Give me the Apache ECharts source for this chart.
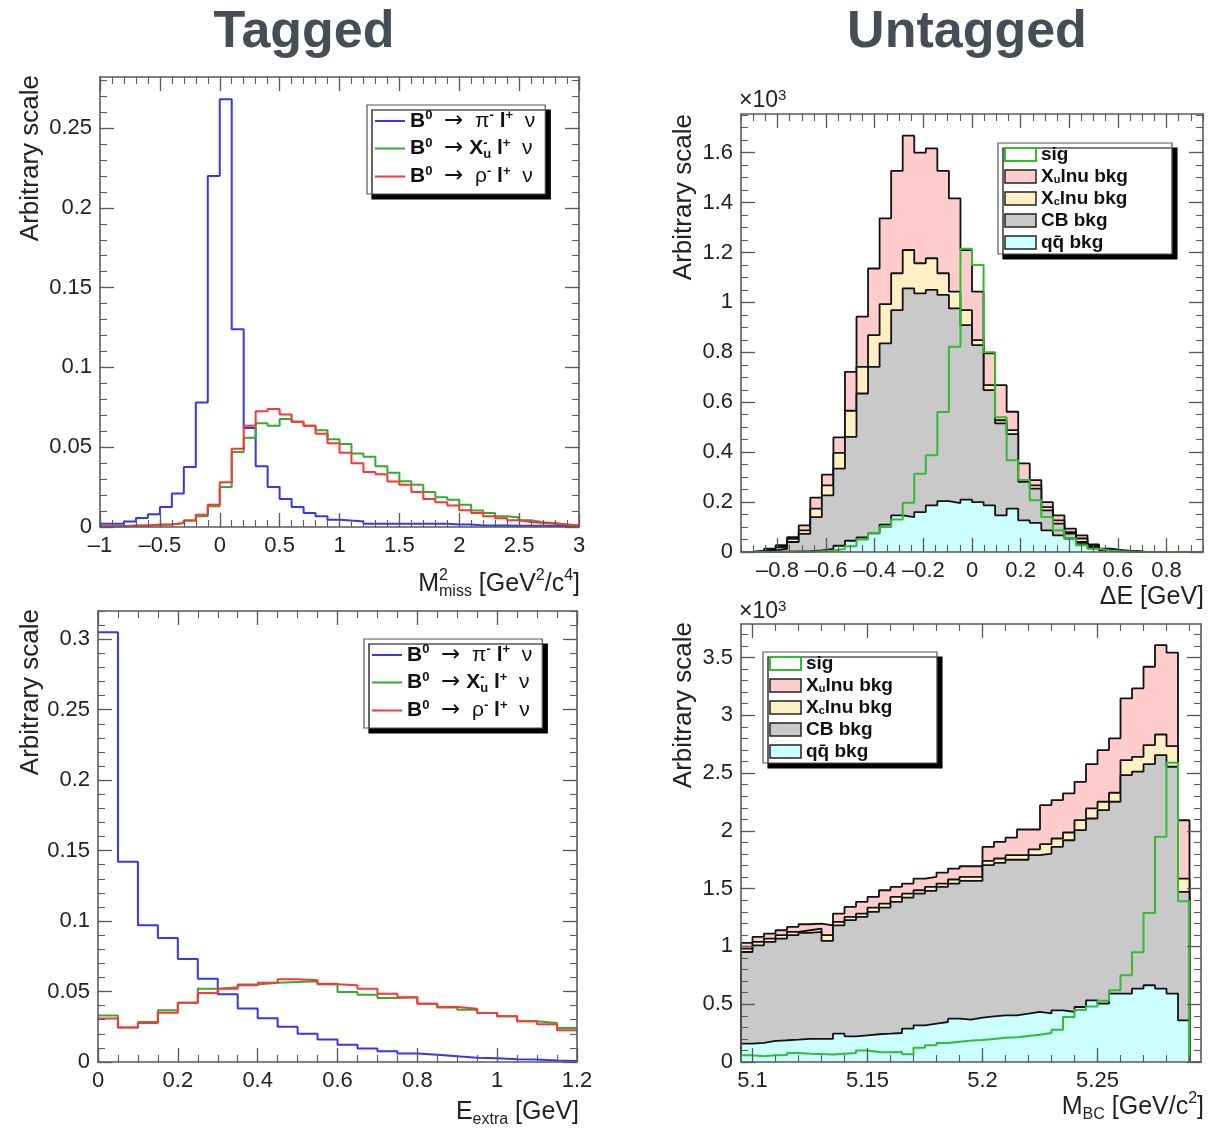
<!DOCTYPE html>
<html><head><meta charset="utf-8">
<script src="https://cdn.jsdelivr.net/npm/echarts@6/dist/echarts.min.js"></script>
<style>html,body{margin:0;padding:0;background:#fff}#c{width:1221px;height:1129px}</style>
</head><body><div id="c"></div>
<script>
// ---------------- DATA ----------------
// Tagged, M^2_miss : 40 bins on [-1, 3]
const tagMissRange = [-1, 3];
const tagMissPi  = [0.002,0.002,0.0035,0.0056,0.008,0.0125,0.021,0.0376,0.078,0.220,0.268,0.124,0.062,0.038,0.025,0.0175,0.0125,0.0088,0.0067,0.0046,0.004,0.0035,0.002,0.002,0.002,0.002,0.002,0.002,0.002,0.0015,0.0015,0.001,0.001,0.001,0.0008,0.0008,0.0008,0.0006,0.0006,0.0005];
const tagMissXu  = [0.0005,0.0005,0.0008,0.001,0.0012,0.0015,0.0025,0.004,0.0067,0.013,0.025,0.047,0.056,0.065,0.0635,0.0677,0.066,0.0635,0.0606,0.055,0.052,0.046,0.044,0.038,0.034,0.0286,0.0265,0.022,0.0186,0.017,0.014,0.0104,0.0088,0.0067,0.006,0.0042,0.003,0.0025,0.0015,0.001];
const tagMissRho = [0.0005,0.0005,0.001,0.001,0.0015,0.0015,0.0025,0.004,0.0077,0.014,0.028,0.049,0.0635,0.0725,0.074,0.0705,0.066,0.0635,0.0585,0.0525,0.0465,0.04,0.0345,0.033,0.0285,0.0265,0.022,0.0175,0.0155,0.0135,0.0105,0.0088,0.0068,0.0055,0.0042,0.0032,0.0025,0.002,0.0015,0.001];
// Tagged, E_extra : 24 bins on [0, 1.2]
const tagExtraRange = [0, 1.2];
const tagExtraPi  = [0.305,0.142,0.097,0.088,0.073,0.059,0.048,0.038,0.031,0.025,0.020,0.016,0.0123,0.0095,0.0076,0.006,0.0052,0.004,0.003,0.0026,0.002,0.0017,0.001,0.0007];
const tagExtraXu  = [0.033,0.0244,0.0284,0.0367,0.042,0.052,0.053,0.055,0.0563,0.0568,0.0573,0.0556,0.0497,0.0478,0.0454,0.046,0.0414,0.0386,0.037,0.0348,0.0324,0.0289,0.0277,0.0241];
const tagExtraRho = [0.0308,0.0244,0.0277,0.035,0.042,0.049,0.052,0.0544,0.0563,0.0587,0.058,0.0551,0.0544,0.052,0.0485,0.046,0.0414,0.039,0.0378,0.0348,0.0324,0.0289,0.0267,0.0225];
// Untagged, Delta E : 40 bins on [-0.95, 0.95]  (units of 10^3)
const untagDeRange = [-0.95, 0.95];
const untagDeQQ  = [0,0,0,0.001,0.002,0.003,0.006,0.012,0.025,0.045,0.058,0.075,0.11,0.147,0.14,0.16,0.187,0.204,0.196,0.21,0.2,0.187,0.147,0.174,0.127,0.117,0.087,0.067,0.054,0.031,0.016,0.007,0.004,0.002,0,0,0,0,0,0];
const untagDeCB  = [0,0.002,0.007,0.012,0.038,0.070,0.134,0.215,0.309,0.416,0.577,0.667,0.726,0.822,0.916,0.876,0.863,0.826,0.78,0.699,0.629,0.462,0.368,0.298,0.154,0.137,0.08,0.047,0.02,0.009,0.006,0.002,0.001,0,0,0,0,0,0,0];
const untagDeXc  = [0,0.001,0.004,0.007,0.013,0.014,0.034,0.040,0.063,0.105,0.107,0.127,0.157,0.148,0.154,0.121,0.127,0.087,0.067,0.06,0.02,0.02,0.013,0.016,0.007,0.013,0.013,0.013,0.006,0.014,0.004,0.002,0.001,0.001,0,0,0,0,0,0];
const untagDeXu  = [0,0.001,0.002,0.007,0.007,0.020,0.044,0.043,0.062,0.156,0.201,0.267,0.344,0.41,0.458,0.443,0.44,0.41,0.374,0.241,0.194,0.127,0.141,0.074,0.067,0.021,0.02,0.02,0.014,0.013,0.004,0.002,0.001,0,0,0,0,0,0,0];
const untagDeSig = [0,0,0,0,0,0.001,0.003,0.006,0.012,0.023,0.05,0.075,0.1,0.13,0.197,0.314,0.388,0.561,0.822,1.215,1.15,0.80,0.54,0.368,0.288,0.207,0.14,0.087,0.054,0.027,0.013,0.006,0.003,0.001,0,0,0,0,0,0];
// Untagged, M_BC : 40 bins on [5.095, 5.295]  (units of 10^3)
const untagMbcRange = [5.095, 5.295];
const untagMbcQQ  = [0.159,0.165,0.182,0.188,0.193,0.2,0.2,0.2,0.245,0.222,0.231,0.24,0.245,0.251,0.289,0.317,0.332,0.346,0.375,0.367,0.384,0.395,0.404,0.404,0.418,0.433,0.42,0.447,0.433,0.476,0.534,0.505,0.592,0.592,0.635,0.664,0.635,0.592,0.361,0];
const untagMbcCB  = [0.793,0.845,0.857,0.88,0.904,0.917,0.926,0.848,0.938,1.005,1.024,1.059,1.091,1.134,1.134,1.14,1.149,1.169,1.169,1.2,1.183,1.308,1.319,1.346,1.332,1.357,1.384,1.415,1.486,1.53,1.573,1.674,1.66,1.891,1.877,1.914,2.021,1.963,1.111,0];
const untagMbcXc  = [0.029,0.029,0.029,0.029,0.029,0.023,0.029,0.049,0.029,0.028,0.029,0.037,0.035,0.044,0.034,0.029,0.034,0.029,0.035,0.035,0.035,0.037,0.038,0.04,0.04,0.05,0.081,0.072,0.067,0.087,0.087,0.073,0.078,0.129,0.129,0.164,0.178,0.178,0.115,0];
const untagMbcXu  = [0.049,0.043,0.043,0.043,0.043,0.052,0.043,0.086,0.072,0.087,0.101,0.093,0.115,0.086,0.087,0.101,0.087,0.095,0.095,0.092,0.092,0.121,0.144,0.152,0.222,0.172,0.337,0.332,0.338,0.331,0.383,0.446,0.47,0.534,0.592,0.678,0.774,0.809,0.505,0];
const untagMbcSig = [0.058,0.049,0.058,0.06,0.078,0.072,0.07,0.065,0.072,0.078,0.1,0.087,0.085,0.087,0.067,0.124,0.144,0.164,0.175,0.185,0.19,0.2,0.21,0.215,0.225,0.235,0.25,0.28,0.39,0.45,0.48,0.53,0.62,0.75,0.95,1.29,1.95,2.59,1.39,0];
// Axis tick labels
const tagMissXTicks  = [-1,-0.5,0,0.5,1,1.5,2,2.5,3];
const tagMissYTicks  = [0,0.05,0.1,0.15,0.2,0.25];
const tagExtraXTicks = [0,0.2,0.4,0.6,0.8,1,1.2];
const tagExtraYTicks = [0,0.05,0.1,0.15,0.2,0.25,0.3];
const untagDeXTicks  = [-0.8,-0.6,-0.4,-0.2,0,0.2,0.4,0.6,0.8];
const untagDeYTicks  = [0,0.2,0.4,0.6,0.8,1,1.2,1.4,1.6];
const untagMbcXTicks = [5.1,5.15,5.2,5.25];
const untagMbcYTicks = [0,0.5,1,1.5,2,2.5,3,3.5];
const yRanges = [[0,0.282],[0,0.32],[0,1.755],[0,3.79]];

// ---------------- BUILD ----------------
const F = "'Liberation Sans', Arial, Helvetica, sans-serif";
const FA = "'DejaVu Sans', sans-serif";
const FRAME = '#5a5a5a';
const BLUE='#3535ff', GREENL='#33aa33', RED='#ff3535';
const PINK='#ffcccc', YELLOW='#fcf0c4', GRAY='#c9c9c9', CYAN='#ccffff', SIG='#33bb33';

function stepPoints(range, vals, closed){
  const n = vals.length, w = (range[1]-range[0])/n, pts = [];
  if (closed) pts.push([range[0], 0]);
  vals.forEach((v,i)=>pts.push([range[0]+i*w, v]));
  pts.push([range[1], vals[n-1]]);
  if (closed) pts.push([range[1], 0]);
  return pts;
}
function add(a,b){ return a.map((v,i)=>v+b[i]); }
function minorTicks(range, step){
  const out=[]; const k0=Math.ceil(range[0]/step-1e-9), k1=Math.floor(range[1]/step+1e-9);
  for(let k=k0;k<=k1;k++) out.push(+(k*step).toFixed(6));
  return out;
}
function fmt(v){ return String(+(+v).toFixed(4)).replace('-', '\u2013'); }

const xAxes=[], yAxes=[];
function makeAxes(list, isX, g, range, major, minorStep){
  const pos = isX ? ['bottom','top'] : ['left','right'];
  const minor = minorTicks(range, minorStep);
  const common = {gridIndex:g, type:'value', min:range[0], max:range[1], splitLine:{show:false}, z:10, silent:true};
  pos.forEach((p,pi)=>{
    list.push(Object.assign({}, common, {position:p,
      axisLine:{show:true, onZero:false, lineStyle:{color:FRAME, width:1.6}},
      axisTick:{show:true, inside:true, length:14, customValues:major, lineStyle:{color:FRAME, width:1.3}},
      axisLabel: pi===0 ? {show:true, customValues:major, formatter:fmt, fontFamily:F, fontSize:22, color:'#222', margin:8} : {show:false}
    }));
    list.push(Object.assign({}, common, {position:p,
      axisLine:{show:false, onZero:false},
      axisTick:{show:true, inside:true, length:7, customValues:minor, lineStyle:{color:FRAME, width:1.1}},
      axisLabel:{show:false}
    }));
  });
}
makeAxes(xAxes,true,0,tagMissRange,tagMissXTicks,0.1);
makeAxes(yAxes,false,0,yRanges[0],tagMissYTicks,0.01);
makeAxes(xAxes,true,1,tagExtraRange,tagExtraXTicks,0.05);
makeAxes(yAxes,false,1,yRanges[1],tagExtraYTicks,0.01);
makeAxes(xAxes,true,2,untagDeRange,untagDeXTicks,0.05);
makeAxes(yAxes,false,2,yRanges[2],untagDeYTicks,0.05);
makeAxes(xAxes,true,3,untagMbcRange,untagMbcXTicks,0.01);
makeAxes(yAxes,false,3,yRanges[3],untagMbcYTicks,0.1);

const series=[];
function lineHist(g, name, range, vals, color){
  series.push({type:'line', name, xAxisIndex:4*g, yAxisIndex:4*g, data:stepPoints(range, vals, false),
    step:'end', symbol:'none', showSymbol:false, silent:true, color, lineStyle:{color, width:2}, z:3});
}
function fillHist(g, name, range, vals, fill, z){
  series.push({type:'line', name, xAxisIndex:4*g, yAxisIndex:4*g, data:stepPoints(range, vals, true),
    step:'end', symbol:'none', showSymbol:false, silent:true, color:fill,
    lineStyle:{color:'#111', width:1.8}, areaStyle:{color:fill, opacity:1, origin:'start'}, z});
}
lineHist(0,'pi', tagMissRange, tagMissPi, BLUE);
lineHist(0,'xul',tagMissRange, tagMissXu, GREENL);
lineHist(0,'rho',tagMissRange, tagMissRho, RED);
lineHist(1,'pi', tagExtraRange, tagExtraPi, BLUE);
lineHist(1,'xul',tagExtraRange, tagExtraXu, GREENL);
lineHist(1,'rho',tagExtraRange, tagExtraRho, RED);

function stackPanel(g, range, qq, cb, xc, xu, sig){
  const c1=qq, c2=add(c1,cb), c3=add(c2,xc), c4=add(c3,xu);
  fillHist(g,'xub',range,c4,PINK,3);
  fillHist(g,'xcb',range,c3,YELLOW,4);
  fillHist(g,'cbb',range,c2,GRAY,5);
  fillHist(g,'qqb',range,c1,CYAN,6);
  series.push({type:'line', name:'sig', xAxisIndex:4*g, yAxisIndex:4*g, data:stepPoints(range, sig, true),
    step:'end', symbol:'none', showSymbol:false, silent:true, color:SIG, lineStyle:{color:SIG, width:2}, z:7});
}
stackPanel(2, untagDeRange, untagDeQQ, untagDeCB, untagDeXc, untagDeXu, untagDeSig);
stackPanel(3, untagMbcRange, untagMbcQQ, untagMbcCB, untagMbcXc, untagMbcXu, untagMbcSig);

const leftText = {
  pi:  '{b|B}{sp|0}{t|  }{ar|\u2192}{t|  \u03c0}{sp|-}{b| l}{sp|+}{t|  \u03bd}',
  xul: '{b|B}{sp|0}{t|  }{ar|\u2192}{t| }{b|X}{sz|-}{sb|u}{b| l}{sp|+}{t|  \u03bd}',
  rho: '{b|B}{sp|0}{t|  }{ar|\u2192}{t|  \u03c1}{sp|-}{b| l}{sp|+}{t|  \u03bd}'
};
const rightText = {
  sig:'{b|sig}', xub:'{b|X}{sb|u}{b|lnu bkg}', xcb:'{b|X}{sb|c}{b|lnu bkg}', cbb:'{b|CB bkg}', qqb:'{b|qq\u0304 bkg}'
};
const leftRich = {
  b:{fontFamily:F, fontSize:21, fontWeight:'bold', color:'#111', lineHeight:24},
  t:{fontFamily:F, fontSize:21, color:'#111', lineHeight:24},
  ar:{fontFamily:FA, fontSize:23, color:'#111', lineHeight:24},
  sp:{fontFamily:F, fontSize:13, fontWeight:'bold', color:'#111', verticalAlign:'top', lineHeight:13},
  sz:{fontFamily:F, fontSize:13, fontWeight:'bold', color:'#111', verticalAlign:'top', lineHeight:13, width:0},
  sb:{fontFamily:F, fontSize:13, fontWeight:'bold', color:'#111', verticalAlign:'bottom', lineHeight:13}
};
const rightRich = {
  b:{fontFamily:F, fontSize:19, fontWeight:'bold', color:'#111', lineHeight:18},
  sb:{fontFamily:F, fontSize:11, fontWeight:'bold', color:'#111', verticalAlign:'bottom', lineHeight:10}
};
const shadow = {backgroundColor:'#fff', borderColor:'#555', borderWidth:1.2, shadowColor:'#000', shadowBlur:0, shadowOffsetX:5, shadowOffsetY:5};
function leftLegend(left, top){
  return Object.assign({orient:'vertical', left, top, selectedMode:false, icon:'rect', itemWidth:30, itemHeight:2, itemGap:4,
    padding:[4,10,6,8], data:['pi','xul','rho'], formatter:n=>leftText[n], textStyle:{rich:leftRich}}, shadow);
}
function rightLegend(left, top){
  return Object.assign({orient:'vertical', left, top, selectedMode:false, icon:'rect', itemWidth:31, itemHeight:13, itemGap:3,
    padding:[2,44,2,6],
    data:[{name:'sig', itemStyle:{color:'#fff', borderColor:SIG, borderWidth:2}},
          {name:'xub', itemStyle:{color:PINK, borderColor:'#222', borderWidth:1.5}},
          {name:'xcb', itemStyle:{color:YELLOW, borderColor:'#222', borderWidth:1.5}},
          {name:'cbb', itemStyle:{color:GRAY, borderColor:'#222', borderWidth:1.5}},
          {name:'qqb', itemStyle:{color:CYAN, borderColor:'#222', borderWidth:1.5}}],
    formatter:n=>rightText[n], textStyle:{rich:rightRich}}, shadow);
}

const TT = '#474d55';
const supR = {fontFamily:F, fontSize:16, fill:'#222', verticalAlign:'top', lineHeight:15, align:'left'};
const subR = {fontFamily:F, fontSize:16, fill:'#222', verticalAlign:'bottom', lineHeight:15, align:'left'};
const mainR = {fontFamily:F, fontSize:25, fill:'#222', lineHeight:32, align:'left'};
function xTitle(x, y, text){
  return {type:'text', x, y, z:20, style:{text, rich:{a:mainR, s:supR, s0:Object.assign({}, supR, {width:0}), d:subR}, align:'right', verticalAlign:'middle'}};
}
function yTitle(x, y){
  return {type:'text', x, y, rotation:Math.PI/2, z:20, style:{text:'Arbitrary scale', font:'26px '+F, fill:'#222', align:'right', verticalAlign:'middle'}};
}
function x10(x, y){
  return {type:'text', x, y, z:20, style:{text:'{a|\u00d710}{s|3}', rich:{a:{fontFamily:F, fontSize:23, fill:'#222', lineHeight:26, align:'left'}, s:{fontFamily:F, fontSize:15, fill:'#222', verticalAlign:'top', lineHeight:12, align:'left'}}, align:'left', verticalAlign:'middle'}};
}

const option = {
  animation:false,
  backgroundColor:'#fff',
  grid:[
    {left:100, top:77, width:479, height:450, outerBoundsMode:'none'},
    {left:98, top:611, width:479, height:451, outerBoundsMode:'none'},
    {left:741, top:114, width:462, height:438, outerBoundsMode:'none'},
    {left:741, top:624, width:460, height:438, outerBoundsMode:'none'}
  ],
  xAxis:xAxes, yAxis:yAxes, series,
  legend:[leftLegend(367,105), leftLegend(364,639), rightLegend(998,143), rightLegend(763,652)],
  graphic:[
    {type:'text', x:304, y:33, style:{text:'Tagged', font:'bold 52px '+F, fill:TT, align:'center', verticalAlign:'middle'}},
    {type:'text', x:967, y:33, style:{text:'Untagged', font:'bold 52px '+F, fill:TT, align:'center', verticalAlign:'middle'}},
    yTitle(31,75), yTitle(31,609), yTitle(684,114), yTitle(684,622),
    xTitle(580,584,'{a|M}{s0|2}{d|miss}{a| [GeV}{s|2}{a|/c}{s|4}{a|]}'),
    xTitle(579,1112,'{a|E}{d|extra}{a| [GeV]}'),
    xTitle(1204,597,'{a|\u0394E [GeV]}'),
    xTitle(1204,1107,'{a|M}{d|BC}{a| [GeV/c}{s|2}{a|]}'),
    x10(739,101), x10(739,612)
  ]
};
const chart = echarts.init(document.getElementById('c'), null, {renderer:'canvas'});
chart.setOption(option);
</script></body></html>
